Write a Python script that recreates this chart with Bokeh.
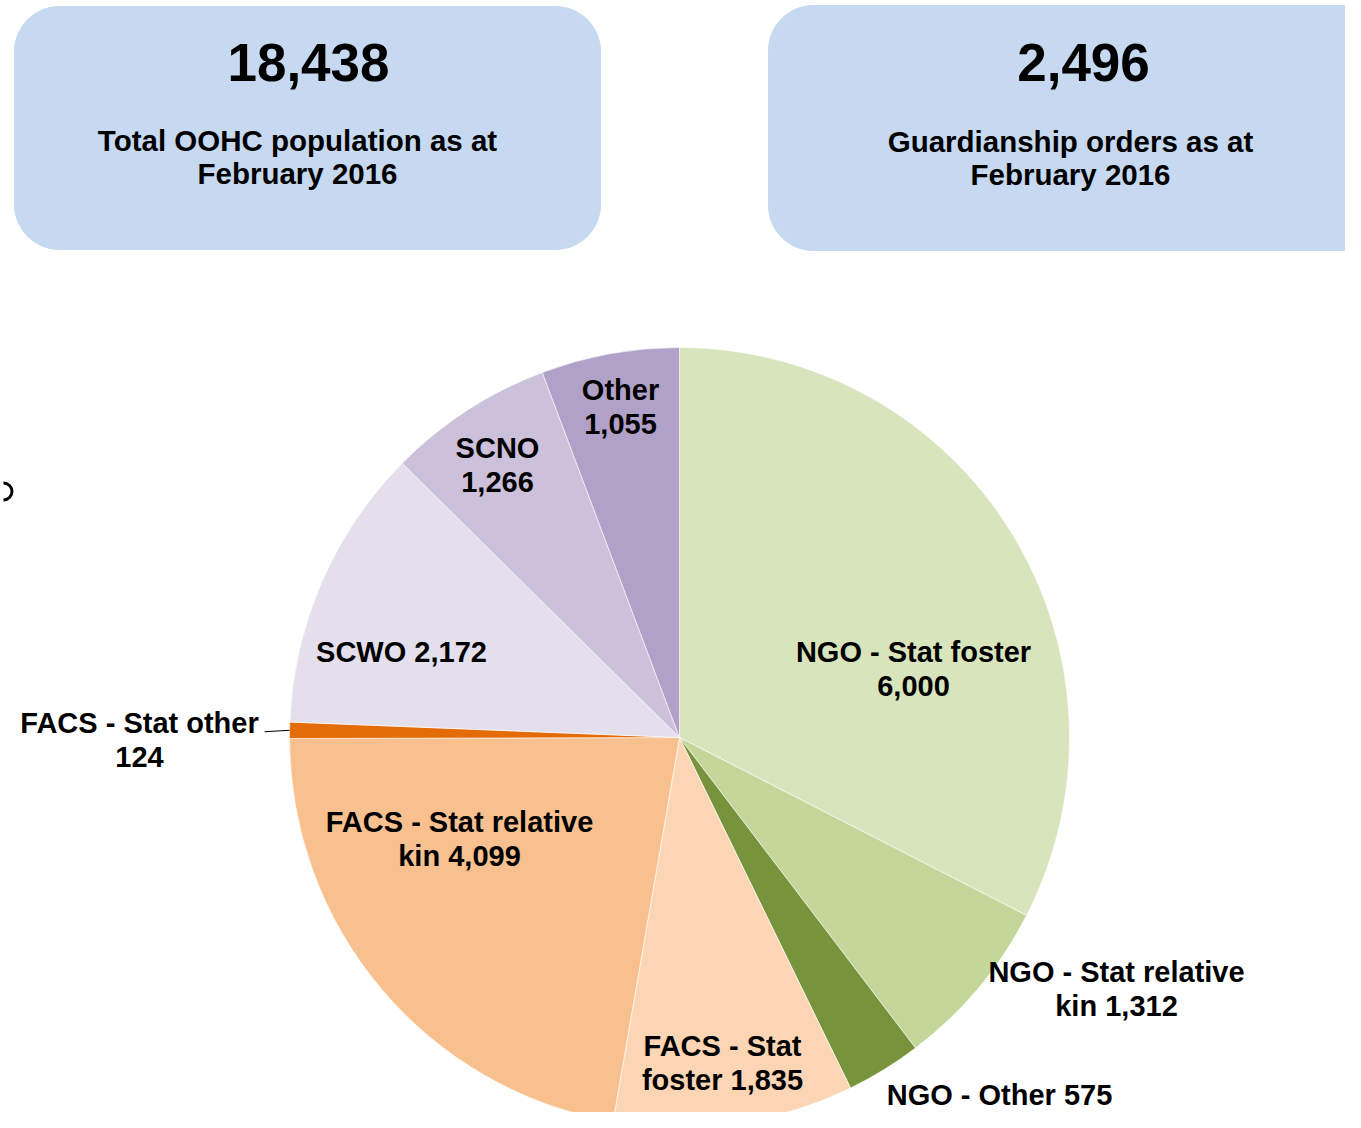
import numpy as np
from bokeh.plotting import figure
from bokeh.models import Range1d, ColumnDataSource
from bokeh.core.properties import value
from bokeh.embed import file_html
from bokeh.resources import INLINE

# ---------------- data ----------------
categories = ["NGO - Stat foster", "NGO - Stat relative kin", "NGO - Other",
              "FACS - Stat foster", "FACS - Stat relative kin", "FACS - Stat other",
              "SCWO", "SCNO", "Other"]
counts = [6000, 1312, 575, 1835, 4099, 124, 2172, 1266, 1055]
colors = ["#d8e4bc", "#c4d79b", "#77933c", "#fcd5b5", "#f9c08f", "#e36c09",
          "#e4dfec", "#ccc0da", "#b1a0c7"]
# words before the line break in each label (0 = single line)
label_break = [4, 4, 0, 3, 4, 4, 0, 1, 1]

kpi_values = [18438, 2496]
kpi_texts = [["Total OOHC population as at", "February 2016"],
             ["Guardianship orders as at", "February 2016"]]

# ---------------- layout ----------------
W, H = 1345, 1112
PAGE_H = 1128
def Y(py):  # reference pixel y -> data y (y up)
    return PAGE_H - py

CX, CY, R = 679, 737, 390
# label centre offsets from pie centre (pixels, y down)
label_off = [(234, -69), (437, 251), (320, 357), (43, 325), (-220, 101),
             (-540, 2), (-278, -86), (-182, -273), (-59, -331)]
LINE_H = 34
FONT = value("Liberation Sans")

p = figure(width=W, height=H, output_backend="svg", toolbar_location=None,
           x_range=Range1d(0, W), y_range=Range1d(PAGE_H - H, PAGE_H),
           x_axis_type=None, y_axis_type=None, min_border=0)
p.grid.visible = False
p.outline_line_color = None
p.background_fill_color = "white"
p.border_fill_color = "white"

# ---------------- KPI boxes ----------------
def rounded_rect(x0, x1, y0, y1, r, n=24):
    xs, ys = [], []
    corners = [(x1 - r, y0 + r, -np.pi / 2, 0), (x1 - r, y1 - r, 0, np.pi / 2),
               (x0 + r, y1 - r, np.pi / 2, np.pi), (x0 + r, y0 + r, np.pi, 1.5 * np.pi)]
    for cx, cy, a0, a1 in corners:
        t = np.linspace(a0, a1, n)
        xs.extend(cx + r * np.cos(t))
        ys.extend(cy + r * np.sin(t))
    return xs, ys

boxes = [(14, 600, 6, 249), (768, 1400, 5, 250)]
box_xs, box_ys = [], []
for (x0, x1, t, b) in boxes:
    xs, ys = rounded_rect(x0, x1, Y(b), Y(t), 45)
    box_xs.append(xs)
    box_ys.append(ys)
p.patches(box_xs, box_ys, fill_color="#c6d9f1", line_color="#c6d9f1", line_width=1)

num_pos = [(308, 62), (1083, 62)]
p.text(x=[q[0] for q in num_pos], y=[Y(q[1]) for q in num_pos],
       text=[f"{v:,}" for v in kpi_values],
       text_font=FONT, text_font_style="bold",
       text_font_size="53px", text_align="center", text_baseline="middle",
       text_color="black")
sub_pos = [(297, 140), (1070, 141)]
sx, sy, st = [], [], []
for (px, py), lines in zip(sub_pos, kpi_texts):
    for i, ln in enumerate(lines):
        sx.append(px)
        sy.append(Y(py + 33 * i))
        st.append(ln)
p.text(x=sx, y=sy, text=st, text_font=FONT, text_font_style="bold",
       text_font_size="29.5px", text_align="center", text_baseline="middle",
       text_color="black")

# ---------------- pie ----------------
vals = np.array(counts, dtype=float)
frac = vals / vals.sum()
cum = np.concatenate([[0], np.cumsum(frac)])
start = np.pi / 2 - cum[:-1] * 2 * np.pi
end = np.pi / 2 - cum[1:] * 2 * np.pi
src = ColumnDataSource(dict(start=start, end=end, color=colors, cat=categories,
                            x=[CX] * len(counts), y=[Y(CY)] * len(counts)))
p.wedge(x="x", y="y", radius=R, start_angle="start", end_angle="end",
        direction="clock", fill_color="color", line_color="white",
        line_width=0.6, source=src)

# labels
lx, ly, lt = [], [], []
for cat, v, br, (dx, dy) in zip(categories, counts, label_break, label_off):
    words = f"{cat} {v:,}".split(" ")
    lines = [" ".join(words)] if br == 0 else [" ".join(words[:br]), " ".join(words[br:])]
    n = len(lines)
    for i, ln in enumerate(lines):
        lx.append(CX + dx)
        ly.append(Y(CY + dy + (i - (n - 1) / 2) * LINE_H))
        lt.append(ln)
p.text(x=lx, y=ly, text=lt, text_font=FONT, text_font_style="bold",
       text_font_size="29px", text_align="center", text_baseline="middle",
       text_color="black")

# leader line for the small slice
k = categories.index("FACS - Stat other")
mid = (start[k] + end[k]) / 2
ex, ey = CX + R * np.cos(mid), Y(CY) + R * np.sin(mid)
p.line([ex, ex - 25], [ey, ey - 1.5], line_color="black", line_width=1.2)

# stroke fragment at the left edge (part of a clipped glyph)
p.arc(x=[3], y=[Y(491)], radius=8.5, start_angle=-np.pi / 2, end_angle=np.pi / 2,
      line_color="black", line_width=3)

open("out.html", "w").write(file_html(p, INLINE))
